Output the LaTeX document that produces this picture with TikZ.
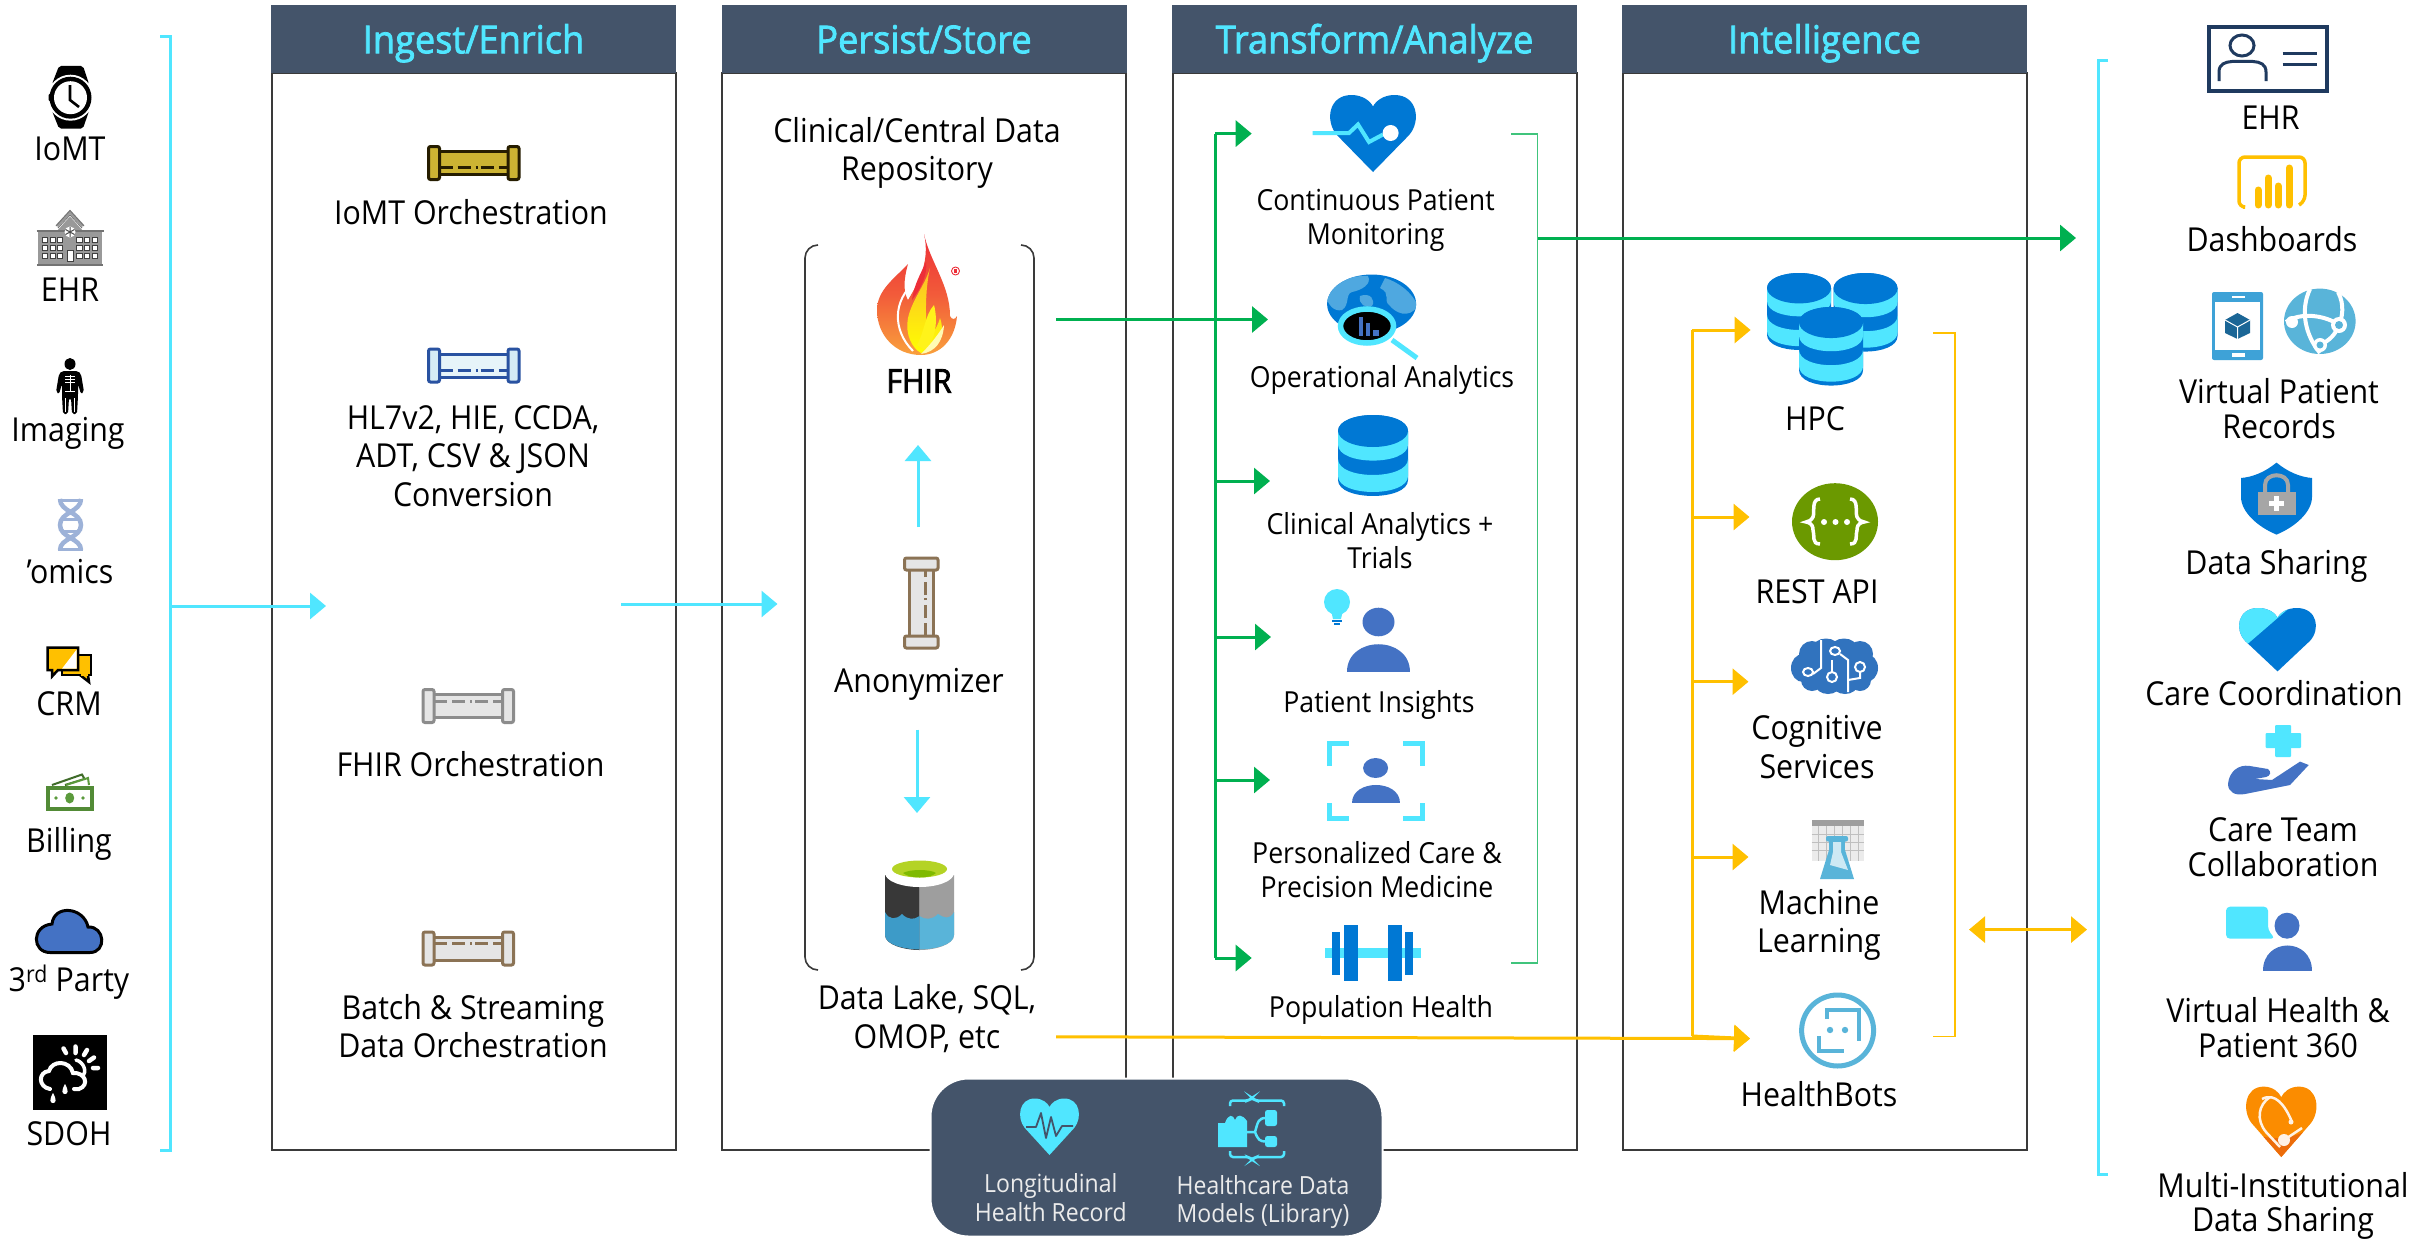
\documentclass[tikz,border=0pt]{standalone}
\usepackage{fontspec}
\setmainfont[FakeStretch=0.92]{Open Sans}
\newfontfamily\titlefont[FakeStretch=0.94,FakeBold=2]{Open Sans}
\newfontfamily\fhirfont[FakeStretch=0.92,FakeBold=2.5]{Open Sans}
\usetikzlibrary{arrows.meta,shapes.geometric}
\definecolor{cy}{HTML}{50E6FF}
\definecolor{hdr}{HTML}{44546A}
\definecolor{gn}{HTML}{00B050}
\definecolor{yl}{HTML}{FFC000}
\definecolor{az}{HTML}{0078D4}
\definecolor{pb}{HTML}{4472C4}
\definecolor{sk}{HTML}{59B4D9}
\definecolor{line}{HTML}{3A3A3A}
\definecolor{pipebrown}{HTML}{8B7355}
\definecolor{flred}{HTML}{ED2E38}
\definecolor{florg}{HTML}{F9A03C}
\tikzset{
  x=1pt,y=-1pt,
  lbl/.style={inner sep=0pt,align=center,font=\fontsize{33}{38.5}\selectfont},
  rgt/.style={inner sep=0pt,align=center,font=\fontsize{33}{34.8}\selectfont},
  mid/.style={inner sep=0pt,align=center,font=\fontsize{29}{34}\selectfont},
  sml/.style={inner sep=0pt,align=center,text=white!92!black,font=\fontsize{25}{28.5}\selectfont},
  colbox/.style={draw=line,line width=2pt,fill=white,inner sep=0pt,minimum width=404pt,minimum height=1077pt},
  hdrbox/.style={fill=hdr,inner sep=0pt,text=cy,minimum width=405pt,minimum height=67.5pt,text height=30pt,text depth=2pt,font=\fontsize{38.5}{44}\titlefont},
  cyarr/.style={cy,line width=3pt,-{Triangle[length=16pt,width=26pt]}},
  gnarr/.style={gn,line width=3pt,-{Triangle[length=16pt,width=26pt]}},
  ylarr/.style={yl,line width=3pt,-{Triangle[length=16pt,width=26pt]}},
  ylboth/.style={yl,line width=3pt,{Triangle[length=16pt,width=26pt]}-{Triangle[length=16pt,width=26pt]}},
  brk/.style={line width=3pt,line join=miter},
}
\newcommand\hpipe[6]{\begin{scope}[shift={(#1,#2)},line width=3pt]
  \draw[#3,fill=#4] (6,5) rectangle (84,28);
  \draw[#3,fill=#5,rounded corners=2pt] (0,0) rectangle (11,33);
  \draw[#3,fill=#5,rounded corners=2pt] (79.5,0) rectangle (90.5,33);
  \draw[#3,dash pattern=on 13pt off 5pt on 13pt off 5pt on 2pt off 3pt] (11,#6) -- (79.5,#6);
\end{scope}}
\newcommand\dbcyl[4]{\begin{scope}[shift={(#1,#2)},xscale=#3,yscale=#4]
  \fill[az] (0,16) .. controls (0,-5.3) and (70,-5.3) .. (70,16) -- (70,65) .. controls (70,86.3) and (0,86.3) .. (0,65) -- cycle;
  \fill[cy] (0,16) -- (70,16) -- (70,29.6) .. controls (70,50.9) and (0,50.9) .. (0,29.6) -- cycle;
  \fill[cy] (0,44) .. controls (0,65.3) and (70,65.3) .. (70,44) -- (70,61) .. controls (70,82.3) and (0,82.3) .. (0,61) -- cycle;
  \fill[az] (35,16) ellipse (35 and 16);
\end{scope}}
\def\heartshape{(50,100) -- (8,52) .. controls (-6,34) and (-2,0) .. (25,0) .. controls (38,0) and (47,8) .. (50,15) .. controls (53,8) and (62,0) .. (75,0) .. controls (102,0) and (106,34) .. (92,52) -- cycle}
\newcommand\person[8]{% cx cy rx ry l r t b
  \fill[pb] (#1,#2) ellipse (#3 and #4);
  \pgfmathsetmacro\pc{#8-(#8-#7)*4/3}
  \fill[pb] (#5,#8) .. controls (#5,\pc) and (#6,\pc) .. (#6,#8) -- cycle;
}
\begin{document}
\begin{tikzpicture}
\useasboundingbox (0,0) rectangle (2417,1239);
\fill[white] (0,0) rectangle (2417,1239);
% ---------- columns
\node[colbox] (col1) at (473.5,611.5) {};
\node[colbox] (col2) at (924,611.5) {};
\node[colbox] (col3) at (1374.5,611.5) {};
\node[colbox] (col4) at (1824.5,611.5) {};
\node[hdrbox] (h1) at (473.5,39.25) {Ingest/Enrich};
\node[hdrbox] (h2) at (924,39.25) {Persist/Store};
\node[hdrbox] (h3) at (1374.5,39.25) {Transform/Analyze};
\node[hdrbox] (h4) at (1824.5,39.25) {Intelligence};
% ---------- named points for connectors
\coordinate (bL1) at (160,36.5); \coordinate (bL2) at (170,36.5); \coordinate (bL3) at (170,1150); \coordinate (bL4) at (160,1150);
\coordinate (aLs) at (170,606); \coordinate (aLe) at (326,606);
\coordinate (aMs) at (621,604); \coordinate (aMe) at (777.5,604);
\coordinate (fhirOut) at (1056,319.5); \coordinate (opIn) at (1268,319.5);
\coordinate (anonUp) at (918,527); \coordinate (fhirIn) at (918,445);
\coordinate (anonDn) at (917,729.5); \coordinate (lakeIn) at (917,813);
\coordinate (gT) at (1215,133.6); \coordinate (gB) at (1215,958);
\coordinate (g1) at (1251.7,133.6); \coordinate (g3) at (1270,481); \coordinate (g3s) at (1215,481);
\coordinate (g4) at (1271,637); \coordinate (g4s) at (1215,637);
\coordinate (g5) at (1270,780); \coordinate (g5s) at (1215,780);
\coordinate (g6) at (1251.7,958);
\coordinate (gr1) at (1511,133.6); \coordinate (gr2) at (1537.5,133.6); \coordinate (gr3) at (1537.5,963); \coordinate (gr4) at (1511,963);
\coordinate (gOuts) at (1538,238); \coordinate (gOute) at (2076,238);
\coordinate (lakeOut) at (1056,1036.8); \coordinate (y5) at (1750,1038.6);
\coordinate (yT) at (1692,330); \coordinate (yB) at (1692,1036);
\coordinate (y1) at (1750.6,330); \coordinate (y2) at (1749.5,517); \coordinate (y2s) at (1692,517);
\coordinate (y3) at (1748.5,681.7); \coordinate (y3s) at (1692,681.7);
\coordinate (y4) at (1748.5,857); \coordinate (y4s) at (1692,857);
\coordinate (yr1) at (1933,333.3); \coordinate (yr2) at (1955,333.3); \coordinate (yr3) at (1955,1036.4); \coordinate (yr4) at (1933,1036.4);
\coordinate (ydL) at (1969,929.6); \coordinate (ydR) at (2087,929.6);
\coordinate (bR1) at (2108,60.5); \coordinate (bR2) at (2098.7,60.5); \coordinate (bR3) at (2098.7,1174.8); \coordinate (bR4) at (2108,1174.8);
% ---------- connectors
\draw[cy,brk] (bL1) -- (bL2) -- (bL3) -- (bL4);
\draw[cyarr] (aLs) -- (aLe);
\draw[cyarr] (aMs) -- (aMe);
\draw[cyarr] (anonUp) -- (fhirIn);
\draw[cyarr] (anonDn) -- (lakeIn);
\draw[gnarr] (fhirOut) -- (opIn);
\draw[gn,line width=3pt] (gB) -- (gT);
\draw[gnarr] (gT) -- (g1);
\draw[gnarr] (g3s) -- (g3);
\draw[gnarr] (g4s) -- (g4);
\draw[gnarr] (g5s) -- (g5);
\draw[gnarr] (gB) -- (g6);
\draw[gn!75!white,line width=1.8pt] (gr1) -- (gr2) -- (gr3) -- (gr4);
\draw[gnarr] (gOuts) -- (gOute);
\draw[ylarr] (lakeOut) -- (y5);
\draw[yl,line width=3pt] (yB) -- (yT);
\draw[ylarr] (yT) -- (y1);
\draw[ylarr] (y2s) -- (y2);
\draw[ylarr] (y3s) -- (y3);
\draw[ylarr] (y4s) -- (y4);
\draw[ylarr] (yB) -- (y5);
\draw[yl,line width=1.8pt] (yr1) -- (yr2) -- (yr3) -- (yr4);
\draw[ylboth] (ydL) -- (ydR);
\draw[cy,brk] (bR1) -- (bR2) -- (bR3) -- (bR4);
% inner repository bracket
\draw[line,line width=1.6pt,rounded corners=13pt] (818,245) -- (805,245) -- (805,970) -- (818,970);
\draw[line,line width=1.6pt,rounded corners=13pt] (1021,245) -- (1034,245) -- (1034,970) -- (1021,970);
% ---------- left labels
\node[lbl] (tIoMT) at (70,149) {IoMT};
\node[lbl] (tEHR) at (70,290) {EHR};
\node[lbl] (tImg) at (68,433) {Imaging};
\node[lbl] (tOmics) at (70,572) {’omics};
\node[lbl] (tCRM) at (69,704) {CRM};
\node[lbl] (tBill) at (69,843.5) {Billing};
\node[lbl] (t3rd) at (69,982) {3\textsuperscript{rd} Party};
\node[lbl] (tSDOH) at (69,1134) {SDOH};
% ---------- col 1
\node[lbl] (tIoMTo) at (471,212) {IoMT Orchestration};
\node[lbl] (tHL7) at (473,456) {HL7v2, HIE, CCDA,\\ADT, CSV \& JSON\\Conversion};
\node[lbl] (tFHIRo) at (470.5,764) {FHIR Orchestration};
\node[lbl] (tBatch) at (473,1026) {Batch \& Streaming\\Data Orchestration};
\hpipe{428.5}{146.5}{black!85!yl}{yl!50!olive!80!white}{yl!50!olive!80!white}{21}
\hpipe{428.5}{349}{blue!35!sk!70!black}{sk!15!white}{sk!25!white}{21}
\hpipe{423}{689.5}{black!45}{black!10}{black!10}{11.5}
\hpipe{423}{932}{pipebrown}{black!10}{black!10}{11.5}
% ---------- col 2
\node[lbl] (tRepo) at (917,153) {Clinical/Central Data\\Repository};
\node[lbl,font=\fontsize{33}{38.5}\fhirfont] (tFHIR) at (919,381) {FHIR};
\node[lbl] (tAnon) at (919,684) {Anonymizer};
\node[lbl] (tLake) at (927,1018.5) {Data Lake, SQL,\\OMOP, etc};
% flame
\path[top color=flred,bottom color=florg,middle color=flred!60!florg,shading angle=0]
  (924,234) .. controls (930,262) and (950,285) .. (950,316) .. controls (952,320) and (955,320) .. (957,316)
  .. controls (955,340) and (940,355) .. (921,355) .. controls (895,355) and (877,335) .. (877,310)
  .. controls (877,290) and (895,278) .. (908,264) .. controls (902,285) and (905,295) .. (908,300)
  .. controls (920,280) and (930,260) .. (924,234) -- cycle;
\draw[white,line width=2pt] (913,351) .. controls (892,330) and (893,300) .. (915,282);
\path[top color=florg!70!yellow,bottom color=yellow] (930,268) .. controls (925,285) and (912,300) .. (908,318) .. controls (905,335) and (912,348) .. (921,353) .. controls (938,350) and (946,335) .. (940,318) .. controls (936,332) and (930,335) .. (928,338) .. controls (925,320) and (925,290) .. (930,268) -- cycle;
\fill[flred] (926,262) .. controls (928,275) and (920,290) .. (912,300) .. controls (914,285) and (920,275) .. (926,262) -- cycle;
\fill[yellow!90!white] (917,345) .. controls (925,330) and (925,315) .. (934,305) .. controls (938,320) and (936,340) .. (925,350) -- cycle;
\fill[white!70!yellow] (921,354) .. controls (930,345) and (938,335) .. (944,325) .. controls (943,342) and (935,352) .. (921,354) -- cycle;
\draw[flred,line width=0.9pt] (955.5,271) circle (4);
\fill[flred] (954,268.8) rectangle (956.8,273.2);
% anonymizer
\begin{scope}[line width=3pt]
\draw[pipebrown,fill=black!10] (909.5,562) rectangle (933.5,645);
\draw[pipebrown,fill=black!10,rounded corners=2pt] (904.5,558) rectangle (938,570);
\draw[pipebrown,fill=black!10,rounded corners=2pt] (904.5,636) rectangle (938,648);
\draw[pipebrown,dash pattern=on 13pt off 5pt on 13pt off 5pt on 2pt off 3pt] (925.5,636) -- (925.5,570);
\end{scope}
% data lake
\definecolor{wl}{HTML}{3D9BC8}
\fill[black!78] (885,875) -- (919.5,875) -- (919.5,950) .. controls (905,950) and (885,945) .. (885,935) -- cycle;
\fill[black!38] (954,875) -- (919.5,875) -- (919.5,950) .. controls (934,950) and (954,945) .. (954,935) -- cycle;
\fill[white] (919.5,873) ellipse (34.5 and 14);
\definecolor{lkg}{HTML}{B4D325}
\definecolor{lkd}{HTML}{7FBA00}
\fill[lkg] (919.5,869) ellipse (27.5 and 8.5);
\fill[lkd] (903,873) .. controls (910,879) and (930,879) .. (936,873) .. controls (930,869) and (910,869) .. (903,873) -- cycle;
\fill[sk] (954,912) .. controls (950,920) and (944,918) .. (938,914) .. controls (932,920) and (925,920) .. (919.5,916) -- (919.5,949.4) .. controls (934,949.4) and (954,945) .. (954,935) -- cycle;
\fill[wl] (885,912) .. controls (889,920) and (896,920) .. (902,914) .. controls (908,920) and (914,920) .. (919.5,916) -- (919.5,949.4) .. controls (905,949.4) and (885,945) .. (885,935) -- cycle;
% ---------- col 3 labels
\node[mid] (tCont) at (1375.6,220) {Continuous Patient\\Monitoring};
\node[mid] (tOper) at (1382,379.5) {Operational Analytics};
\node[mid] (tClin) at (1380,541) {Clinical Analytics +\\Trials};
\node[mid] (tPat) at (1379,704.5) {Patient Insights};
\node[mid] (tPers) at (1377,870) {Personalized Care \&\\Precision Medicine};
\node[mid] (tPop) at (1381,1010) {Population Health};
% heart monitor
\begin{scope}[shift={(1330,95)},xscale=.86,yscale=.77] \fill[az] \heartshape; \end{scope}
\draw[cy,line width=4pt,line join=miter] (1312.5,133) -- (1349,133) -- (1358,124.5) -- (1369,142) -- (1383,134.5);
\fill[white] (1390.6,133) ellipse (8 and 8);
% globe + magnifier
\definecolor{gl}{HTML}{4FA8E0}
\fill[az] (1371.6,304) ellipse (44.5 and 29.5);
\begin{scope}
\clip (1371.6,304) ellipse (44.5 and 29.5);
\fill[gl] (1326,296) .. controls (1340,280) and (1352,275) .. (1368,276) .. controls (1372,284) and (1362,290) .. (1352,292) .. controls (1345,294) and (1350,305) .. (1342,310) .. controls (1334,312) and (1328,305) .. (1326,296) -- cycle;
\fill[gl] (1385,278) .. controls (1398,282) and (1412,292) .. (1418,306) .. controls (1408,320) and (1395,312) .. (1390,306) .. controls (1382,300) and (1392,294) .. (1380,288) -- cycle;
\fill[gl] (1360,296) .. controls (1370,292) and (1376,300) .. (1372,306) .. controls (1366,309) and (1358,304) .. (1360,296) -- cycle;
\end{scope}
\draw[cy,line width=5pt] (1392,340) -- (1417,358);
\fill[black] (1367,326) ellipse (26 and 17);
\draw[cy,line width=5.5pt] (1367,326) ellipse (26.5 and 17);
\fill[pb] (1359,317) rectangle (1363,336);
\fill[pb] (1366,323) rectangle (1370,336);
\fill[pb] (1373,330) rectangle (1379,336);
% DB
\dbcyl{1338}{415}{1}{1}
% patient insights
\fill[cy] (1337,602) ellipse (13 and 13);
\fill[cy] (1331,610) -- (1343,610) -- (1341,619) -- (1333,619) -- cycle;
\fill[az] (1332,619.5) rectangle (1342,622);
\fill[az] (1334,623) rectangle (1340,625);
\person{1378.5}{622}{16}{14.3}{1347}{1410}{644.5}{672}
% personalized
\person{1375.6}{768}{12.5}{10}{1351.5}{1400}{785}{803}
\draw[cy,line width=5pt] (1329.5,766) -- (1329.5,743) -- (1349,743);
\draw[cy,line width=5pt] (1403,743) -- (1422,743) -- (1422,766);
\draw[cy,line width=5pt] (1329.5,803) -- (1329.5,818.5) -- (1349,818.5);
\draw[cy,line width=5pt] (1403,818.5) -- (1422,818.5) -- (1422,803);
% dumbbell
\fill[cy] (1325,948) rectangle (1421,958);
\fill[az] (1344,924.5) rectangle (1358,981);
\fill[az] (1387.5,924.5) rectangle (1402,981);
\fill[az] (1332,931.6) rectangle (1340,974.7);
\fill[az] (1405,931.6) rectangle (1413,974.7);
% ---------- col 4
\node[lbl] (tHPC) at (1815,419) {HPC};
\node[lbl] (tREST) at (1817,592) {REST API};
\node[lbl] (tCog) at (1817,747) {Cognitive\\Services};
\node[lbl] (tML) at (1819,925) {Machine\\Learning};
\node[lbl] (tBots) at (1819,1094.5) {HealthBots};
\dbcyl{1767}{273}{.915}{.95}
\dbcyl{1833.5}{273}{.915}{.97}
\draw[white,line width=1.5pt] (1832.5,300) -- (1832.5,308);
\dbcyl{1799}{307}{.915}{.97}
% REST
\definecolor{rs}{HTML}{6B9900}
\fill[rs] (1835,521.7) ellipse (43 and 38.5);
\draw[white,line width=3.5pt] (1820,499) .. controls (1811,499) and (1815,512) .. (1813,517) .. controls (1811,521) and (1808,521.5) .. (1806,522) .. controls (1808,522.5) and (1813,523) .. (1813,530) .. controls (1815,535) and (1811,544) .. (1820,544);
\draw[white,line width=3.5pt] (1850,499) .. controls (1859,499) and (1855,512) .. (1857,517) .. controls (1859,521) and (1862,521.5) .. (1864,522) .. controls (1862,522.5) and (1857,523) .. (1857,530) .. controls (1855,535) and (1859,544) .. (1850,544);
\foreach \xx in {1824,1835.5,1847} \fill[white] (\xx,522) circle (3);
% brain
\definecolor{br}{HTML}{3173BE}
\fill[br] (1835,666) ellipse (35 and 24);
\foreach \xx/\yy/\rx/\ry in {1803/668/12/14,1812/654/13/13,1826/648/13/9.5,1844/648/13/9.5,1860/654/13/13,1866/668/12/14,1812/680/11/11,1828/684/13/10,1845/684/13/10,1860/680/11/11}
  \fill[br] (\xx,\yy) ellipse (\rx pt and \ry pt);
\begin{scope}[white,line width=2pt]
\draw (1821,640) -- (1821,668) -- (1813,674);
\draw (1808,672) ellipse (5 and 4);
\draw (1835,651) ellipse (5 and 4);
\draw (1840,654) -- (1848,660) -- (1848,692);
\draw (1832,677) ellipse (5 and 5);
\draw (1832,672) -- (1832,660);
\draw (1860,667) ellipse (5 and 5);
\draw (1860,672) -- (1860,678) -- (1848,680);
\end{scope}
% ML
\fill[black!8] (1811.6,819.7) rectangle (1863.7,861);
\fill[black!38] (1811.6,819.7) rectangle (1863.7,826);
\draw[black!25,line width=.8pt] (1818,826) -- (1818,861) (1826,826) -- (1826,861) (1834,826) -- (1834,861) (1842,826) -- (1842,861) (1850,826) -- (1850,861) (1858,826) -- (1858,861) (1811.6,834) -- (1863.7,834) (1811.6,842) -- (1863.7,842) (1811.6,850) -- (1863.7,850);
\fill[sk] (1829,838) rectangle (1845,855);
\fill[sk,rounded corners=2pt] (1826,836) rectangle (1848,841.5);
\fill[sk] (1829,850) -- (1845,850) -- (1854,879) -- (1820,879) -- cycle;
\fill[sk!30!white] (1833,842) -- (1841,842) -- (1841,852) -- (1848,870) -- (1830,865) -- (1833,852) -- cycle;
% healthbots
\draw[sk,line width=5pt] (1837.6,1030.5) ellipse (36 and 35.5);
\draw[sk,line width=4pt] (1819,1036) -- (1819,1050.5) -- (1844,1050.5) (1827,1019) -- (1827,1010) -- (1858.5,1010) -- (1858.5,1041);
\fill[sk] (1830,1030) circle (3.2);
\fill[sk] (1845,1030) circle (3.2);
% ---------- right labels
\node[rgt] (tEHRr) at (2270.6,117.4) {EHR};
\node[rgt] (tDash) at (2272,239) {Dashboards};
\node[rgt] (tVirt) at (2279,409) {Virtual Patient\\Records};
\node[rgt] (tShare) at (2276.4,565.5) {Data Sharing};
\node[rgt] (tCare) at (2274,693) {Care Coordination};
\node[rgt] (tTeam) at (2283,847) {Care Team\\Collaboration};
\node[rgt] (tVH) at (2278,1028) {Virtual Health \&\\Patient 360};
\node[rgt] (tMulti) at (2283,1206) {Multi-Institutional\\Data Sharing};
% EHR card
\definecolor{nv}{HTML}{1F3A5F}
\draw[nv,line width=4pt,fill=white] (2209,27) rectangle (2326.5,91);
\draw[nv,line width=3pt] (2242,45.5) ellipse (12 and 10.5);
\draw[nv,line width=3pt] (2219,81) -- (2219,72) .. controls (2219,64) and (2225,62) .. (2232,61.5) -- (2253,61.5) .. controls (2260,62) and (2266,64) .. (2266,72) -- (2266,81);
\draw[nv,line width=3pt] (2282.6,53.4) -- (2316.5,53.4) (2282.6,64.5) -- (2316.5,64.5);
% dashboards
\draw[yl,line width=3.5pt,rounded corners=6pt] (2243,207) -- (2239,207) -- (2239,157) -- (2305,157) -- (2305,201) -- (2299,205);
\foreach \xx/\yy in {2258/190,2268/178,2278/186,2289/168}
  \draw[yl,line width=7pt,line cap=round] (\xx,\yy) -- (\xx,205);
% phone + hub
\fill[sk!70!az,rounded corners=2pt] (2212,292) rectangle (2263,360);
\fill[white] (2215,302) rectangle (2260,350);
\fill[white] (2232,296) rectangle (2245,298);
\fill[white] (2232,353) rectangle (2245,357);
\fill[sk!50!black!60!az] (2237.5,313) -- (2250,320) -- (2250,333) -- (2237.5,339) -- (2225,333) -- (2225,320) -- cycle;
\draw[white,line width=1pt] (2225,320) -- (2237.5,327) -- (2250,320) (2237.5,327) -- (2237.5,339);
\fill[sk] (2319.8,321.3) ellipse (35.8 and 32.7);
\begin{scope}[white,line width=4pt]
\draw (2310,289) .. controls (2300,310) and (2305,335) .. (2320,353);
\draw (2286,322) .. controls (2300,312) and (2325,315) .. (2339,325);
\draw (2338,292) .. controls (2345,305) and (2342,318) .. (2339,325) .. controls (2335,335) and (2330,340) .. (2320,345);
\end{scope}
\fill[white] (2339,325) circle (8);\fill[sk] (2339,325) circle (4);
\fill[white] (2320,345) circle (7);\fill[sk] (2320,345) circle (3.5);
\fill[white] (2292,322) circle (6);
% shield
\fill[az] (2276.5,462.6) .. controls (2265,472) and (2253,477) .. (2241,478) -- (2241,497) .. controls (2241,512) and (2258,527) .. (2276.5,534.6) .. controls (2295,527) and (2312,512) .. (2312,497) -- (2312,478) .. controls (2300,477) and (2288,472) .. (2276.5,462.6) -- cycle;
\draw[black!35,line width=4pt] (2265,493) -- (2265,485) .. controls (2265,472) and (2288,472) .. (2288,485) -- (2288,493);
\fill[black!35] (2257.6,492) rectangle (2295.7,515);
\fill[white] (2274,496) rectangle (2279,511);
\fill[white] (2269,501) rectangle (2284,506);
% care coordination
\begin{scope}[shift={(2239,608)},xscale=.77,yscale=.634]
 \fill[az] \heartshape;
 \begin{scope} \clip \heartshape; \fill[cy] (-10,-5) -- (70,-5) -- (8,60) -- (-10,60) -- cycle; \end{scope}
\end{scope}
% care team
\fill[cy,rounded corners=1pt] (2275,725) rectangle (2291,757);
\fill[cy,rounded corners=1pt] (2265.5,733) rectangle (2301,748);
\fill[pb] (2228,784) .. controls (2229,772) and (2238,764) .. (2250,766) -- (2268,769) .. controls (2272,772) and (2270,776) .. (2266,777) -- (2255,779) -- (2272,780) -- (2300,761.6) -- (2308.7,765) -- (2290,785) -- (2245,794) .. controls (2235,796) and (2228,792) .. (2228,784) -- cycle;
% virtual health
\fill[cy,rounded corners=4pt] (2226,906.7) -- (2268,906.7) -- (2268,930) -- (2275,938.7) -- (2226,938.7) -- cycle;
\person{2287}{925.7}{12.5}{13}{2263}{2312}{945.4}{971}
% multi-institutional heart
\definecolor{mh}{HTML}{FB8C00}
\definecolor{mh2}{HTML}{EC6C0A}
\begin{scope}[shift={(2246,1086.6)},xscale=.705,yscale=.704]
 \fill[mh] \heartshape;
 \begin{scope} \clip \heartshape; \fill[mh2] (-10,55) .. controls (30,85) and (80,75) .. (110,45) -- (110,110) -- (-10,110) -- cycle; \end{scope}
\end{scope}
\draw[white!90!orange,line width=2.5pt] (2270,1097) .. controls (2258,1105) and (2256,1120) .. (2266,1132) -- (2280,1147);
\draw[white!90!orange,line width=2.5pt] (2262,1099) .. controls (2275,1092) and (2285,1105) .. (2292,1122);
\fill[white!90!orange] (2291,1122) circle (2.5);
\fill[white!90!orange] (2284,1140) ellipse (6 and 6);
\draw[white!90!orange,line width=2.5pt] (2284,1140) -- (2302,1128);
% ---------- left icons
% watch
\fill[black,rounded corners=2pt] (59,66) -- (83,66) -- (89,84) -- (52,84) -- cycle;
\fill[black,rounded corners=2pt] (52,111) -- (89,111) -- (83,128.5) -- (59,128.5) -- cycle;
\fill[white] (70.5,97.7) circle (23);
\fill[black] (70.5,97.7) circle (21);
\fill[black,rounded corners=1pt] (48.5,94) rectangle (53,101);
\fill[white] (70.5,97.7) circle (16.5);
\draw[black,line width=2.6pt] (70,85) -- (70,100) -- (79,107);
% hospital
\definecolor{hs}{HTML}{999999}
\fill[hs] (38,232) rectangle (102,265);
\fill[hs] (56,232) -- (70,216.5) -- (84,232) -- cycle;
\draw[black!55,line width=1.2pt] (37,265) -- (103,265) (36.5,231) -- (103.5,231);
\draw[hs,line width=3pt] (57,226) -- (70,212) -- (83,226);
\draw[black!55,line width=.8pt] (56,226) -- (70,210.5) -- (84,226) (58,228) -- (70,215) -- (82,228);
\fill[white] (70,232) circle (5.5);
\draw[black!70,line width=1pt] (70,227) -- (70,237) (65.5,229.5) -- (74.5,234.5) (65.5,234.5) -- (74.5,229.5);
\foreach \xx in {44.6,52.7,60,79.5,87,94.6} \foreach \yy in {240,248,256}
  \draw[black!75,line width=.9pt,fill=white] (\xx-2.6,\yy-2.6) rectangle (\xx+2.6,\yy+2.6);
\draw[black!75,line width=.9pt,fill=white] (67,250) rectangle (73.5,261);
% skeleton
\fill[black] (70,364) ellipse (5.5 and 6);
\fill[black,rounded corners=2pt] (62,371) -- (78,371) -- (81,374) -- (84,392) -- (81,394) -- (78,384) -- (78,396) -- (77,414) -- (72,414) -- (71,398) -- (69,398) -- (68,414) -- (63,414) -- (62,396) -- (62,384) -- (59,394) -- (56,392) -- (59,374) -- cycle;
\draw[white,line width=.7pt] (65,376) -- (75,376) (65,379) -- (75,379) (65,382) -- (75,382) (70,375) -- (70,392) (65,391) -- (75,391);
\draw[white,line width=.8pt] (65.5,398) -- (65.5,412) (74.5,398) -- (74.5,412);
% dna
\definecolor{dn}{HTML}{9DB2D8}
\draw[dn,line width=4.5pt] (60,499) .. controls (60,512) and (81,512) .. (81,525) .. controls (81,538) and (60,538) .. (60,550);
\draw[dn,line width=4.5pt] (81,499) .. controls (81,512) and (60,512) .. (60,525) .. controls (60,538) and (81,538) .. (81,550);
\draw[dn,line width=3pt] (58,500) -- (83,500) (58,549) -- (83,549) (62,519) -- (79,519) (62,531) -- (79,531);
% CRM
\draw[black,line width=2.5pt,fill=yl,line join=miter] (62,655) rectangle (91,675);
\draw[black,line width=2.5pt,fill=yl,line join=miter] (80,675) -- (89,682) -- (88,675);
\fill[yl] (81,672) rectangle (88,675.5);
\draw[black,line width=2.5pt,fill=yl,line join=miter] (47.5,647.5) -- (78,647.5) -- (78,670) -- (58,670) -- (52,676.5) -- (52,670) -- (47.5,670) -- cycle;
\fill[white] (76.7,649.5) -- (76.7,668.7) -- (62,668.7) -- cycle;
% billing
\definecolor{bg}{HTML}{5B9A3C}
\draw[bg!70!black,line width=2pt,fill=white] (52,785) -- (82,774.5) -- (84.5,779) -- (65,785);
\draw[bg,line width=2pt,fill=white] (66,785) -- (88,778) -- (89,785);
\draw[bg!90!black,line width=4pt,fill=white] (47.5,787.5) rectangle (92,808.5);
\fill[bg] (69.7,798) ellipse (4.5 and 5.5);
\fill[bg] (56,798) circle (1.8);
\fill[bg] (83,798) circle (1.8);
% cloud
\draw[black,line width=3pt,fill=pb] (50,952.5) .. controls (32,952.5) and (31,926) .. (52,924) .. controls (54,904) and (84,907) .. (88,927) .. controls (105,926) and (107,952.5) .. (90,952.5) -- cycle;
% sdoh
\fill[black] (32.6,1035) rectangle (106.7,1109.5);
\begin{scope}[white,line cap=round]
\draw[line width=4.5pt] (63.5,1048.5) -- (66,1053) (75.5,1046.5) -- (75.5,1053) (87,1050) -- (84,1055) (94,1057.5) -- (89,1061) (93,1068) -- (98,1068);
\draw[line width=3.5pt] (76,1060) .. controls (84,1062) and (87,1072) .. (83,1076);
\draw[line width=4pt] (50,1089) .. controls (38,1087) and (38,1072) .. (49,1071) .. controls (52,1060) and (70,1060) .. (73,1073) .. controls (85,1072) and (90,1085) .. (79,1089) -- (74,1089);
\end{scope}
\fill[white] (53,1093) .. controls (49,1100) and (50,1103) .. (53,1103) .. controls (56,1103) and (57,1100) .. (53,1093) -- cycle;
\fill[white] (65,1084) .. controls (61,1091) and (62,1094) .. (65,1094) .. controls (68,1094) and (69,1091) .. (65,1084) -- cycle;
% ---------- bottom panel
\node[fill=hdr,draw=white,line width=2pt,rounded corners=38pt,minimum width=452pt,minimum height=158pt,inner sep=0pt] (panel) at (1156.5,1157.5) {};
\begin{scope}[shift={(1020,1098.5)},xscale=.59,yscale=.565] \fill[cy] \heartshape; \end{scope}
\draw[hdr,line width=1.8pt,line join=round] (1026,1127) -- (1036,1127) -- (1041,1113) -- (1046,1138) -- (1051,1117) -- (1056,1136) -- (1062,1126) -- (1073,1126);
\node[sml] (tLong) at (1050.8,1197.5) {Longitudinal\\Health Record};
\node[sml] (tHDM) at (1263,1202) {Healthcare Data\\Models (Library)};
% HDM icon
\fill[cy] (1218,1123) -- (1225,1123) .. controls (1228,1114) and (1233,1114) .. (1235,1120) .. controls (1237,1114) and (1242,1114) .. (1247,1121) -- (1247,1147) -- (1218,1147) -- cycle;
\draw[cy,line width=2.5pt] (1247,1132) -- (1255,1132) (1255,1132) .. controls (1258,1122) and (1258,1118) .. (1266,1118) (1255,1132) .. controls (1258,1140) and (1260,1141.5) .. (1266,1141.5);
\fill[cy,rounded corners=2.5pt] (1265,1110) rectangle (1277,1126);
\fill[cy,rounded corners=2.5pt] (1265,1136) rectangle (1277,1147);
\draw[cy,line width=2.5pt,rounded corners=3pt] (1230,1106) -- (1230,1100.5) -- (1249,1100.5) -- (1252,1097.5) -- (1255,1100.5) -- (1284,1100.5) -- (1284,1106);
\draw[cy,line width=2.5pt,rounded corners=3pt] (1230,1151) -- (1230,1157) -- (1249,1157) -- (1252,1160) -- (1255,1157) -- (1284,1157) -- (1284,1151);
\end{tikzpicture}
\end{document}
